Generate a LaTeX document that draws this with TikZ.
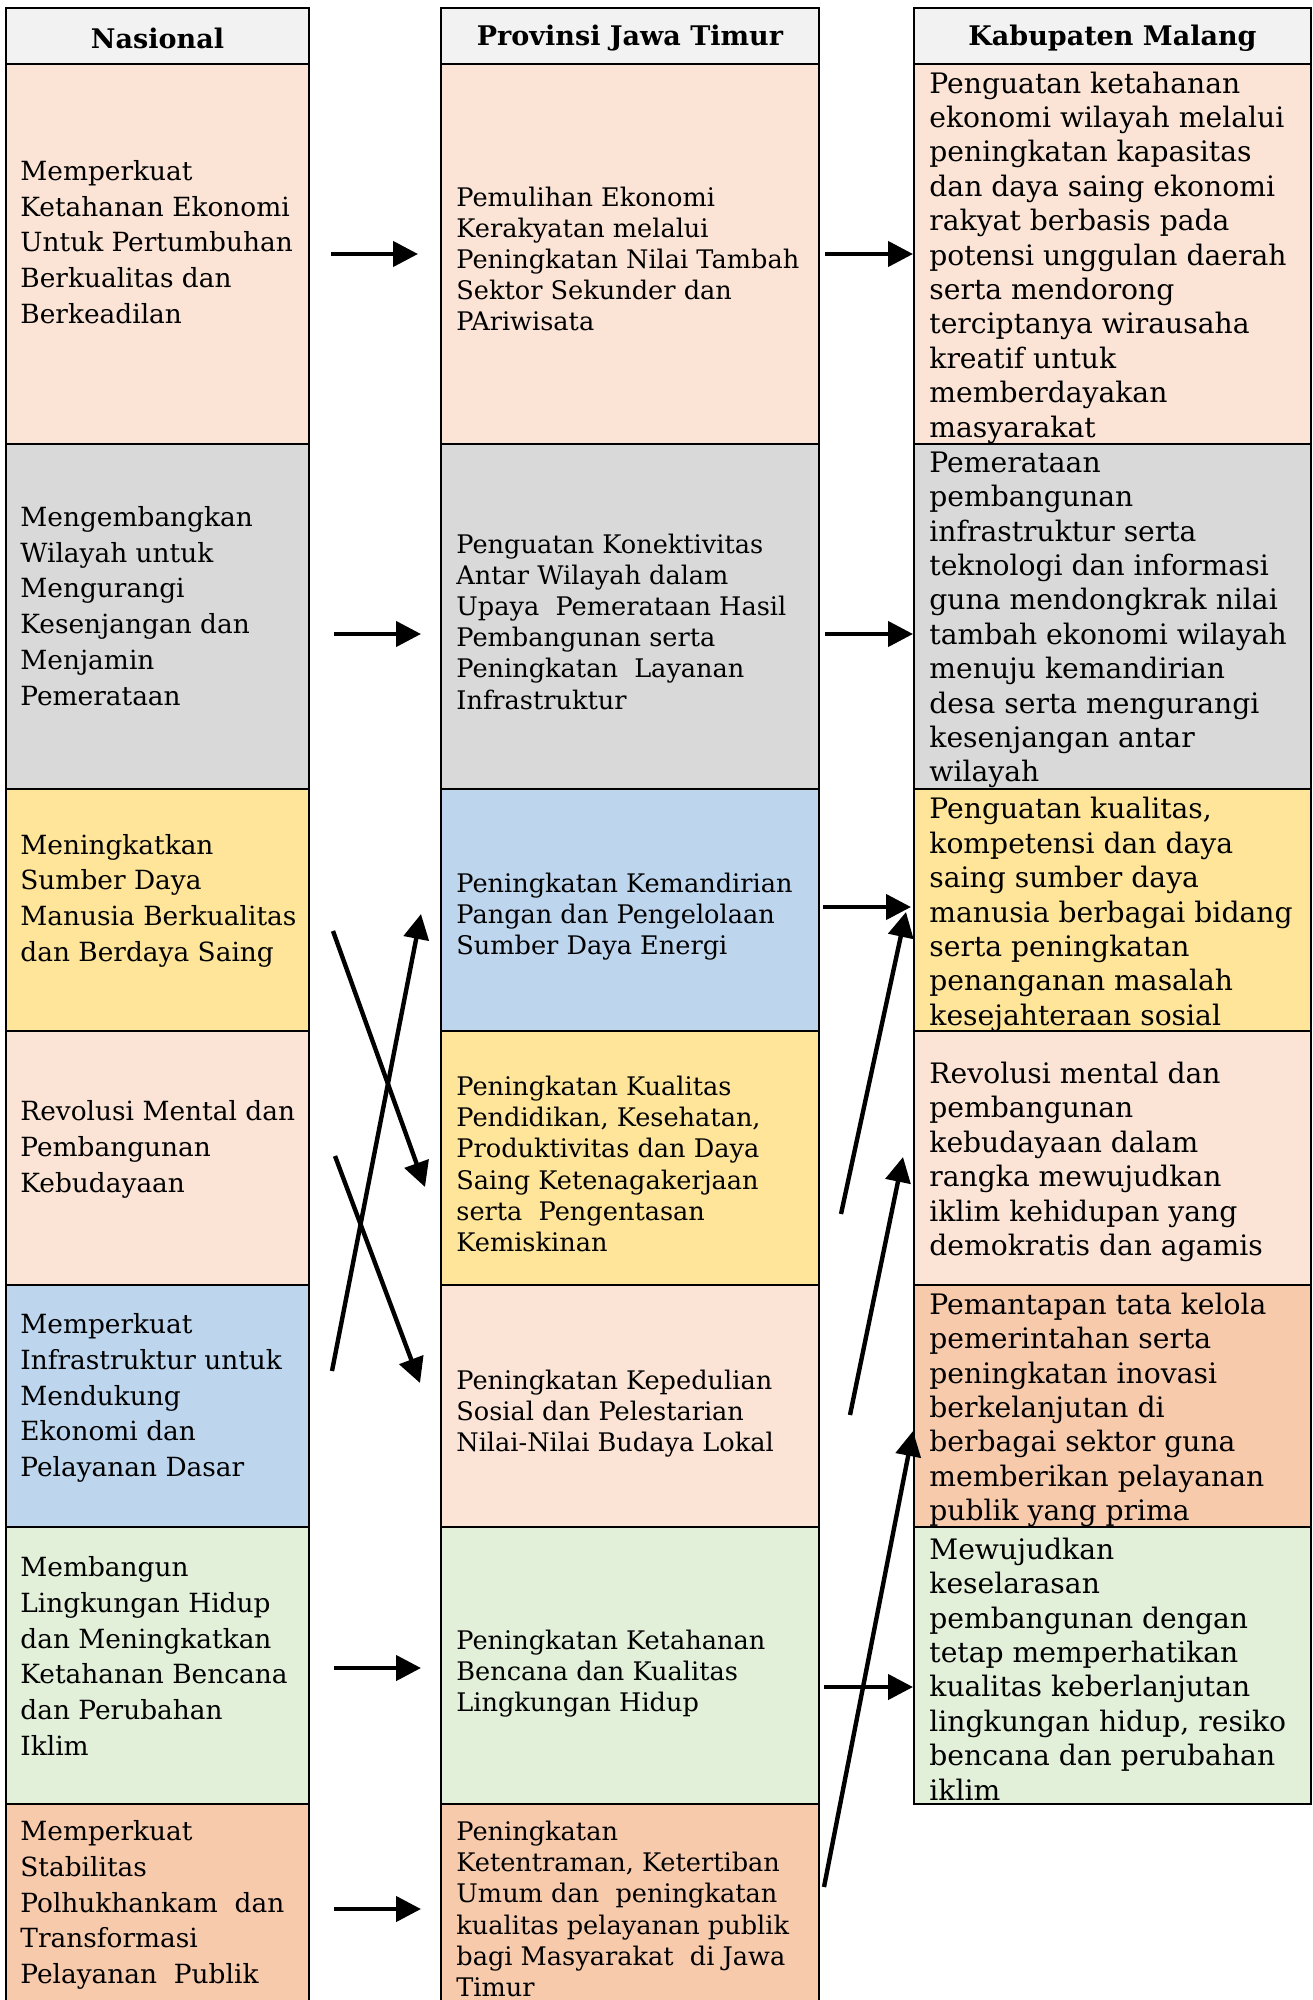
\documentclass[tikz,border=0pt]{standalone}
\usepackage{fontspec}
\setmainfont{DejaVu Serif}
\usetikzlibrary{arrows.meta}
\definecolor{chdr}{HTML}{F2F2F2}
\definecolor{cpeach}{HTML}{FBE4D5}
\definecolor{cgrey}{HTML}{D9D9D9}
\definecolor{cyellow}{HTML}{FFE599}
\definecolor{cblue}{HTML}{BDD6EE}
\definecolor{cgreen}{HTML}{E2EFD9}
\definecolor{corange}{HTML}{F7CAAC}
\begin{document}
\begin{tikzpicture}[x=0.5pt,y=-0.5pt,
  cell/.style={draw=black, line width=1pt},
  hdrtext/.style={anchor=center, inner sep=0pt, font=\fontsize{13.5}{16}\selectfont\bfseries},
  ta/.style={anchor=west, align=left, inner sep=0pt, font=\fontsize{13.2}{17.85}\selectfont},
  tb/.style={anchor=west, align=left, inner sep=0pt, font=\fontsize{12.8}{15.6}\selectfont},
  tc/.style={anchor=west, align=left, inner sep=0pt, font=\fontsize{14.1}{17.2}\selectfont},
  arr/.style={line width=2.2pt, -{Triangle[length=12.5pt,width=12.5pt]}}
]
\useasboundingbox (0,0) rectangle (1312,2000);
\fill[white] (0,0) rectangle (1312,2000);
\begin{scope}
\clip (0,0) rectangle (1312,2000);
% headers
\path[cell, fill=chdr] (6,8) rectangle (309,64);
\path[cell, fill=chdr] (441,8) rectangle (819,64);
\path[cell, fill=chdr] (914,8) rectangle (1311,64);
% column 1
\path[cell, fill=cpeach]  (6,64) rectangle (309,444);
\path[cell, fill=cgrey]   (6,444) rectangle (309,789);
\path[cell, fill=cyellow] (6,789) rectangle (309,1031);
\path[cell, fill=cpeach]  (6,1031) rectangle (309,1285);
\path[cell, fill=cblue]   (6,1285) rectangle (309,1527);
\path[cell, fill=cgreen]  (6,1527) rectangle (309,1804);
\path[cell, fill=corange] (6,1804) rectangle (309,2010);
% column 2
\path[cell, fill=cpeach]  (441,64) rectangle (819,444);
\path[cell, fill=cgrey]   (441,444) rectangle (819,789);
\path[cell, fill=cblue]   (441,789) rectangle (819,1031);
\path[cell, fill=cyellow] (441,1031) rectangle (819,1285);
\path[cell, fill=cpeach]  (441,1285) rectangle (819,1527);
\path[cell, fill=cgreen]  (441,1527) rectangle (819,1804);
\path[cell, fill=corange] (441,1804) rectangle (819,2010);
% column 3
\path[cell, fill=cpeach]  (914,64) rectangle (1311,444);
\path[cell, fill=cgrey]   (914,444) rectangle (1311,789);
\path[cell, fill=cyellow] (914,789) rectangle (1311,1031);
\path[cell, fill=cpeach]  (914,1031) rectangle (1311,1285);
\path[cell, fill=corange] (914,1285) rectangle (1311,1527);
\path[cell, fill=cgreen]  (914,1527) rectangle (1311,1804);
\end{scope}

% header texts
\node[hdrtext] (h1) at (157.5,38) {Nasional};
\node[hdrtext] (h2) at (630,38) {Provinsi Jawa Timur};
\node[hdrtext] (h3) at (1112.5,38) {Kabupaten Malang};

% column 1 texts
\node[ta] (n1) at (20,242) {Memperkuat\\Ketahanan Ekonomi\\Untuk Pertumbuhan\\Berkualitas dan\\Berkeadilan};
\node[ta] (n2) at (20,606) {Mengembangkan\\Wilayah untuk\\Mengurangi\\Kesenjangan dan\\Menjamin\\Pemerataan};
\node[ta] (n3) at (20,900.5) {Meningkatkan\\Sumber Daya\\Manusia Berkualitas\\dan Berdaya Saing};
\node[ta] (n4) at (20,1149.5) {Revolusi Mental dan\\Pembangunan\\Kebudayaan};
\node[ta] (n5) at (20,1398) {Memperkuat\\Infrastruktur untuk\\Mendukung\\Ekonomi dan\\Pelayanan Dasar};
\node[ta] (n6) at (20,1656) {Membangun\\Lingkungan Hidup\\dan Meningkatkan\\Ketahanan Bencana\\dan Perubahan\\Iklim};
\node[ta] (n7) at (20,1905) {Memperkuat\\Stabilitas\\Polhukhankam\ \ dan\\Transformasi\\Pelayanan\ \ Publik};

% column 2 texts
\node[tb] (p1) at (456,259) {Pemulihan Ekonomi\\Kerakyatan melalui\\Peningkatan Nilai Tambah\\Sektor Sekunder dan\\PAriwisata};
\node[tb] (p2) at (456,621.5) {Penguatan Konektivitas\\Antar Wilayah dalam\\Upaya\ \ Pemerataan Hasil\\Pembangunan serta\\Peningkatan\ \ Layanan\\Infrastruktur};
\node[tb] (p3) at (456,916.5) {Peningkatan Kemandirian\\Pangan dan Pengelolaan\\Sumber Daya Energi};
\node[tb] (p4) at (456,1164) {Peningkatan Kualitas\\Pendidikan, Kesehatan,\\Produktivitas dan Daya\\Saing Ketenagakerjaan\\serta\ \ Pengentasan\\Kemiskinan};
\node[tb] (p5) at (456,1413.5) {Peningkatan Kepedulian\\Sosial dan Pelestarian\\Nilai-Nilai Budaya Lokal};
\node[tb] (p6) at (456,1673.5) {Peningkatan Ketahanan\\Bencana dan Kualitas\\Lingkungan Hidup};
\node[tb] (p7) at (456,1909) {Peningkatan\\Ketentraman, Ketertiban\\Umum dan\ \ peningkatan\\kualitas pelayanan publik\\bagi Masyarakat\ \ di Jawa\\Timur};

% column 3 texts
\node[tc] (k1) at (929,257.5) {Penguatan ketahanan\\ekonomi wilayah melalui\\peningkatan kapasitas\\dan daya saing ekonomi\\rakyat berbasis pada\\potensi unggulan daerah\\serta mendorong\\terciptanya wirausaha\\kreatif untuk\\memberdayakan\\masyarakat};
\node[tc] (k2) at (929,620) {Pemerataan\\pembangunan\\infrastruktur serta\\teknologi dan informasi\\guna mendongkrak nilai\\tambah ekonomi wilayah\\menuju kemandirian\\desa serta mengurangi\\kesenjangan antar\\wilayah};
\node[tc] (k3) at (929,914.5) {Penguatan kualitas,\\kompetensi dan daya\\saing sumber daya\\manusia berbagai bidang\\serta peningkatan\\penanganan masalah\\kesejahteraan sosial};
\node[tc] (k4) at (929,1162) {Revolusi mental dan\\pembangunan\\kebudayaan dalam\\rangka mewujudkan\\iklim kehidupan yang\\demokratis dan agamis};
\node[tc] (k5) at (929,1410) {Pemantapan tata kelola\\pemerintahan serta\\peningkatan inovasi\\berkelanjutan di\\berbagai sektor guna\\memberikan pelayanan\\publik yang prima};
\node[tc] (k6) at (929,1669) {Mewujudkan\\keselarasan\\pembangunan dengan\\tetap memperhatikan\\kualitas keberlanjutan\\lingkungan hidup, resiko\\bencana dan perubahan\\iklim};

% arrow end points
\coordinate (a1s) at (331,254);  \coordinate (a1e) at (418,254);
\coordinate (a2s) at (825,254);  \coordinate (a2e) at (913,254);
\coordinate (a3s) at (334,634);  \coordinate (a3e) at (421,634);
\coordinate (a4s) at (825,634);  \coordinate (a4e) at (913,634);
\coordinate (a5s) at (333,931);  \coordinate (a5e) at (425,1187);
\coordinate (a6s) at (332,1371); \coordinate (a6e) at (421,914);
\coordinate (a7s) at (335,1156); \coordinate (a7e) at (420,1383);
\coordinate (a8s) at (823,907);  \coordinate (a8e) at (911,907);
\coordinate (a9s) at (841,1214); \coordinate (a9e) at (906,912);
\coordinate (a10s) at (850,1415); \coordinate (a10e) at (903,1157);
\coordinate (a11s) at (824,1687); \coordinate (a11e) at (913,1687);
\coordinate (a12s) at (334,1668); \coordinate (a12e) at (421,1668);
\coordinate (a13s) at (334,1909); \coordinate (a13e) at (421,1909);
\coordinate (a14s) at (824,1887); \coordinate (a14e) at (913,1431);

\foreach \i in {1,...,14} {\draw[arr] (a\i s) -- (a\i e);}
\end{tikzpicture}
\end{document}
